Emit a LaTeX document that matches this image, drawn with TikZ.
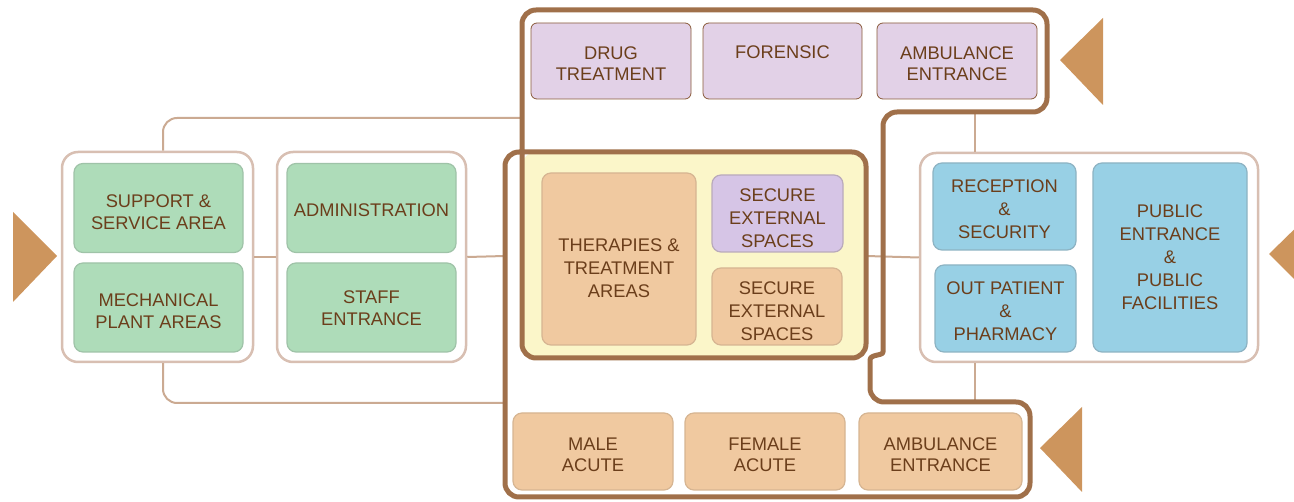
\documentclass[tikz,border=0pt]{standalone}
\usepackage{fontspec}
\setmainfont{Liberation Sans}
\definecolor{txt}{HTML}{6B3E1B}
\definecolor{outl}{HTML}{A0704A}
\definecolor{conn}{HTML}{CBAA92}
\definecolor{grpline}{HTML}{D8BFB2}
\definecolor{tri}{HTML}{CD955D}
\definecolor{green}{HTML}{AEDCB9}
\definecolor{greenl}{HTML}{9FC3A8}
\definecolor{lilac}{HTML}{E2D1E7}
\definecolor{lilacl}{HTML}{8A5A3A}
\definecolor{lilac2}{HTML}{D6C5E6}
\definecolor{lilac2l}{HTML}{B9AABB}
\definecolor{peach}{HTML}{F0C9A0}
\definecolor{peachl}{HTML}{D6B592}
\definecolor{blue}{HTML}{98D0E5}
\definecolor{bluel}{HTML}{8DB3C3}
\definecolor{yell}{HTML}{FBF6C9}
\newcommand\txtdown[1]{\rule{0pt}{\dimexpr 13.3pt+#1*2\relax}}
\begin{document}
\begin{tikzpicture}[x=1pt,y=-1pt,
  grp/.style={draw=grpline, line width=2.5pt, fill=white, rounded corners=16pt, inner sep=0pt},
  cell/.style={rounded corners=9pt, line width=1.2pt, align=center, text=txt,
    font=\fontsize{18.3}{21.5}\selectfont, inner sep=0pt},
  cell3/.style={cell, font=\fontsize{18.3}{23}\selectfont},
  gcell/.style={cell, fill=green, draw=greenl, minimum width=169pt, minimum height=89pt},
  pcell/.style={cell, fill=lilac, draw=lilacl, line width=0.8pt, rounded corners=6pt, minimum height=76pt},
  ocell/.style={cell, fill=peach, draw=peachl},
  bcell/.style={cell3, fill=blue, draw=bluel},
  connector/.style={draw=conn, line width=2pt, rounded corners=14pt},
  outline/.style={draw=outl, line width=5pt, rounded corners=14pt, line join=round},
  arrowtri/.style={fill=tri, draw=none}]
\useasboundingbox (0,0) rectangle (1294,502);
\clip (0,0) rectangle (1294,502);

% free connector ends
\coordinate (tl) at (520,118);
\coordinate (bl) at (505,403);
\coordinate (ml) at (505,256);
\coordinate (mr) at (866,256);
\coordinate (rt) at (975,112);
\coordinate (rb) at (975,402);

% group frames
\node[grp, minimum width=191pt, minimum height=210pt] (lg) at (157.5,257) {};
\node[grp, minimum width=189pt, minimum height=210pt] (mg) at (371.5,257) {};
\node[grp, minimum width=338pt, minimum height=209pt] (rg) at (1089,257.5) {};

% connectors
\draw[connector] ([xshift=5.5pt]lg.north) |- (tl);
\draw[connector] ([xshift=5.5pt]lg.south) |- (bl);
\draw[connector] (lg.east) -- (mg.west);
\draw[connector] (mg.east) -- (ml);
\draw[connector] (mr) -- (rg.west);
\draw[connector] (rt) -- (rt |- rg.north);
\draw[connector] (rg.south -| rb) -- (rb);

% left groups
\node[gcell] (sup) at (158.5,208) {\txtdown{4pt}SUPPORT \&\\SERVICE AREA};
\node[gcell] (mech) at (158.5,307.5) {\txtdown{3.5pt}MECHANICAL\\PLANT AREAS};
\node[gcell] (adm) at (371.5,208) {\txtdown{2pt}ADMINISTRATION};
\node[gcell] (stf) at (371.5,307.5) {\txtdown{0.5pt}STAFF\\ENTRANCE};

% right group
\node[bcell, minimum width=143pt, minimum height=87pt] (rec) at (1004.5,206.5) {\txtdown{2.5pt}RECEPTION\\\&\\SECURITY};
\node[bcell, minimum width=141pt, minimum height=87pt] (outp) at (1005.5,308.5) {\txtdown{2.5pt}OUT PATIENT\\\&\\PHARMACY};
\node[bcell, minimum width=154pt, minimum height=189pt] (pub) at (1170,257.5) {PUBLIC\\ENTRANCE\\\&\\PUBLIC\\FACILITIES};

% top row
\node[pcell, minimum width=160pt] (drug) at (611,61) {\txtdown{2.5pt}DRUG\\TREATMENT};
\node[pcell, minimum width=159pt] (for) at (782.5,61) {\txtdown{2pt}FORENSIC\\\phantom{X}};
\node[pcell, minimum width=160pt] (amb1) at (957,61) {\txtdown{2.5pt}AMBULANCE\\ENTRANCE};

% therapies group
\node[fill=yell, rounded corners=14pt, minimum width=344pt, minimum height=206pt, inner sep=0pt] (yl) at (694,255) {};
\node[cell3, fill=peach, draw=peachl, minimum width=154pt, minimum height=172pt] (ther) at (619,259) {\txtdown{9pt}THERAPIES \&\\TREATMENT\\AREAS};
\node[cell3, fill=lilac2, draw=lilac2l, minimum width=131pt, minimum height=77pt] (sec1) at (777.5,213.5) {\txtdown{4pt}SECURE\\EXTERNAL\\SPACES};
\node[cell3, fill=peach, draw=peachl, minimum width=130pt, minimum height=77pt] (sec2) at (777,306.5) {\txtdown{4pt}SECURE\\EXTERNAL\\SPACES};

% bottom row
\node[ocell, minimum width=160pt, minimum height=77pt] (male) at (593,451.5) {\txtdown{3pt}MALE\\ACUTE};
\node[ocell, minimum width=160pt, minimum height=77pt] (fem) at (765,451.5) {\txtdown{3pt}FEMALE\\ACUTE};
\node[ocell, minimum width=163pt, minimum height=77pt] (amb2) at (940.5,451.5) {\txtdown{3pt}AMBULANCE\\ENTRANCE};

% zone outline
\draw[outline] (700,358) -- (522,358) -- (522,10) -- (1047,10) -- (1047,112) -- (883,112)
  -- (883,338) .. controls (883,356) and (870,354) .. (870,374)
  -- (870,402) -- (1030,402) -- (1030,497) -- (505,497) -- (505,152) -- (866,152)
  -- (866,358) -- (700,358);

% entrance triangles
\fill[arrowtri] (13,212) -- (57,256) -- (13,302) -- cycle;
\fill[arrowtri] (1103,18) -- (1060,60) -- (1103,105) -- cycle;
\fill[arrowtri] (1312,212) -- (1269,254) -- (1312,297) -- cycle;
\fill[arrowtri] (1082,407) -- (1040,448) -- (1082,492) -- cycle;
\end{tikzpicture}
\end{document}
